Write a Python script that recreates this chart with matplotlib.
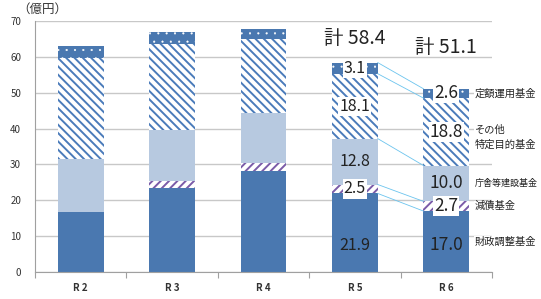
import numpy as np
import matplotlib
matplotlib.use('Agg')
import matplotlib.pyplot as plt

plt.rcParams['font.family'] = ['Noto Sans CJK JP', 'DejaVu Sans']
plt.rcParams['hatch.linewidth'] = 1.4

# データ（億円）
categories = ['R 2', 'R 3', 'R 4', 'R 5', 'R 6']
zaisei = [16.8, 23.3, 28.2, 21.9, 17.0]     # 財政調整基金
gensai = [0.0, 2.0, 2.2, 2.5, 2.7]          # 減債基金
chosha = [14.7, 14.3, 14.0, 12.8, 10.0]     # 庁舎等建設基金
sonota = [28.3, 24.1, 20.5, 18.1, 18.8]     # その他特定目的基金
teigaku = [3.1, 3.1, 3.0, 3.1, 2.6]         # 定額運用基金
fund_names = ['財政調整基金', '減債基金', '庁舎等建設基金', 'その他\n特定目的基金', '定額運用基金']
totals = ['58.4', '51.1']

series = [zaisei, gensai, chosha, sonota, teigaku]
styles = [
    dict(color='#4A78B0', edgecolor='#4A78B0', hatch=None, hlw=1.4),
    dict(color='white', edgecolor='#7A5BA8', hatch='////', hlw=1.4),
    dict(color='#B7C9E0', edgecolor='#B7C9E0', hatch=None, hlw=1.4),
    dict(color='white', edgecolor='#4A7BBA', hatch='\\\\\\\\', hlw=1.4),
    dict(color='#4A78B0', edgecolor='white', hatch='..', hlw=0.3),
]

fig = plt.figure(figsize=(5.41, 2.99), dpi=100)
ax = fig.add_axes([0.0647, 0.0903, 0.8447, 0.8395])

x = np.arange(len(categories))
w = 0.5
bottom = np.zeros(len(categories))
bottoms = []
for vals, st in zip(series, styles):
    vals = np.array(vals)
    with plt.rc_context({'hatch.linewidth': st['hlw']}):
        bars = ax.bar(x, vals, w, bottom=bottom, color=st['color'], edgecolor=st['edgecolor'],
                      hatch=st['hatch'], linewidth=0, zorder=2)
    for p in bars:
        if hasattr(p, 'set_hatch_linewidth'):
            p.set_hatch_linewidth(st['hlw'])
    bottoms.append(bottom.copy())
    bottom = bottom + vals

# R5 と R6 をつなぐ線
for vals, b in zip(series, bottoms):
    top = b + np.array(vals)
    ax.plot([3 + w / 2, 4 - w / 2], [top[3], top[4]], color='#6CC4EE', lw=0.6, zorder=3)

# 数値ラベル
boxed = [False, True, False, True, True]
for i, fs in zip([3, 4], [11.5, 12.5]):
    for k, (vals, b) in enumerate(zip(series, bottoms)):
        yc = 7.5 if k == 0 else b[i] + vals[i] / 2
        bbox = dict(facecolor='white', edgecolor='none', pad=0.8) if boxed[k] else None
        ax.text(i, yc, f'{vals[i]:.1f}', ha='center', va='center', fontsize=fs,
                color='#222222', bbox=bbox, zorder=4)

# 合計
for i, t, yy in zip([3, 4], totals, [65.2, 62.7]):
    ax.text(i, yy, f'計 {t}', ha='center', va='center', fontsize=14, color='#222222')

# 右側の凡例ラベル
for k, (vals, b, name) in enumerate(zip(series, bottoms, fund_names)):
    yc = b[4] + vals[4] / 2
    if '\n' in name:
        yc -= 1.5
    fs = 6.5 if len(name) > 6 and '\n' not in name else 7.4
    ax.text(4.31, yc, name, ha='left', va='center', fontsize=fs, color='#222222',
            linespacing=1.5, clip_on=False, zorder=5,
            bbox=dict(facecolor='white', edgecolor='none', pad=0.3))

ax.set_xlim(-0.5, 4.5)
ax.set_ylim(0, 70)
ax.set_yticks(range(0, 71, 10))
ax.yaxis.grid(True, color='#C8C8C8', lw=1.0)
ax.set_axisbelow(True)
ax.tick_params(axis='y', length=0, pad=10, labelsize=7, labelcolor='#333333')

ax.set_xticks(x)
ax.set_xticklabels(categories, fontsize=7, fontweight='bold', color='#333333')
ax.set_xticks(np.arange(-0.5, 4.6, 1.0), minor=True)
ax.tick_params(axis='x', which='major', length=0, pad=8)
ax.tick_params(axis='x', which='minor', length=4, color='#A0A0A0', width=0.8)

for s in ['top', 'right']:
    ax.spines[s].set_visible(False)
ax.spines['left'].set_color('#A0A0A0')
ax.spines['bottom'].set_color('#A0A0A0')
ax.spines['left'].set_linewidth(0.8)
ax.spines['bottom'].set_linewidth(0.8)

fig.text(42 / 541, 1 - 9 / 299, '（億円）', ha='center', va='center', fontsize=9, color='#333333')

plt.savefig('out.png', dpi=100)
